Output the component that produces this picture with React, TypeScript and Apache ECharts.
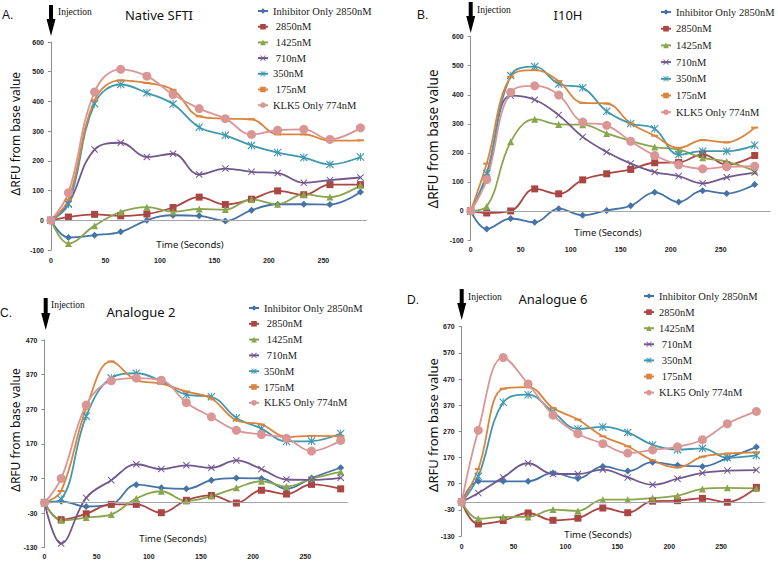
import React, { useEffect, useRef } from 'react';
import * as echarts from 'echarts';

// Time points (seconds)
const times = [0, 16, 40, 64, 88, 112, 136, 160, 184, 208, 232, 256, 284];

// Panel A – Native SFTI
const aInhibitor = [0, -58, -50, -39, 0, 17, 15, -2, 34, 54, 54, 53, 95];
const a2850 = [0, 11, 20, 15, 21, 43, 78, 53, 71, 99, 86, 120, 120];
const a1425 = [0, -78, -18, 28, 44, 29, 38, 36, 70, 54, 87, 78, 118];
const a710 = [0, 56, 238, 261, 213, 224, 154, 174, 163, 159, 126, 135, 144];
const a350 = [0, 54, 392, 457, 429, 391, 313, 286, 252, 228, 211, 188, 213];
const a175 = [0, 70, 404, 471, 462, 439, 350, 342, 340, 289, 289, 268, 269];
const aKLK5 = [0, 93, 432, 508, 485, 423, 376, 342, 289, 303, 306, 272, 311];

// Panel B – I10H
const bInhibitor = [0, -62, -26, -39, 8, -15, 2, 18, 64, 31, 70, 60, 91];
const b2850 = [0, -7, 0, 76, 59, 107, 128, 143, 166, 167, 195, 159, 191];
const b1425 = [0, 15, 238, 316, 298, 297, 267, 241, 220, 211, 183, 170, 138];
const b710 = [0, 115, 397, 383, 330, 255, 203, 163, 134, 120, 95, 116, 132];
const b350 = [0, 129, 466, 497, 437, 424, 343, 301, 283, 194, 206, 206, 226];
const b175 = [0, 163, 462, 485, 447, 372, 370, 301, 259, 217, 244, 236, 287];
const bKLK5 = [0, 108, 409, 431, 399, 306, 295, 240, 191, 159, 145, 152, 154];

// Panel C – Analogue 2
const cInhibitor = [0, 4, -11, -5, 52, 43, 40, 65, 71, 70, 40, 71, 101];
const c2850 = [0, -49, -32, -5, -5, -29, 7, 21, -1, 36, 25, 53, 40];
const c1425 = [0, -51, -43, -34, 12, 33, 5, 19, 43, 62, 47, 69, 89];
const c710 = [0, -118, 14, 65, 111, 97, 108, 101, 122, 97, 67, 66, 72];
const c350 = [0, 10, 250, 360, 374, 351, 312, 306, 245, 214, 177, 178, 200];
const c175 = [0, 34, 272, 408, 354, 344, 321, 301, 238, 226, 190, 193, 192];
const cKLK5 = [0, 70, 282, 352, 360, 354, 289, 248, 209, 197, 186, 149, 180];

// Panel D – Analogue 6
const dInhibitor = [0, 79, 79, 79, 111, 90, 136, 118, 152, 140, 136, 168, 210];
const d2850 = [0, -84, -71, -42, -70, -62, -23, -41, 3, 5, 14, -1, 56];
const d1425 = [0, -64, -57, -57, -29, -34, 9, 9, 15, 24, 50, 54, 52];
const d710 = [0, 34, 94, 148, 107, 107, 124, 94, 66, 89, 111, 120, 122];
const d350 = [0, 98, 381, 410, 344, 279, 287, 266, 218, 200, 205, 169, 178];
const d175 = [0, 126, 433, 439, 359, 315, 251, 213, 159, 132, 173, 185, 190];
const dKLK5 = [0, 274, 552, 451, 332, 261, 223, 187, 199, 211, 238, 299, 346];

// Legend names (some entries carry a leading space in the original)
const S = '\u00a0';
const namesA = ['Inhibitor Only 2850nM', S + '2850nM', S + '1425nM', S + '710nM', '350nM', S + '175nM', 'KLK5 Only 774nM'];
const namesB = ['Inhibitor Only 2850nM', '2850nM', '1425nM', '710nM', '350nM', '175nM', 'KLK5 Only 774nM'];
const namesC = ['Inhibitor Only 2850nM', S + '2850nM', S + '1425nM', S + '710nM', '350nM', '175nM', 'KLK5 Only 774nM'];
const namesD = ['Inhibitor Only 2850nM', '2850nM', '1425nM', S + '710nM', S + '350nM', S + '175nM', 'KLK5 Only 774nM'];

const titles = ['Native SFTI', 'I10H', 'Analogue 2', 'Analogue 6'];
const letters = ['A.', 'B.', 'C.', 'D.'];

const COLORS = ['#4572A7', '#AA4643', '#89A54E', '#71588F', '#4198AF', '#DB843D', '#D99694'];
const X_PATH = 'path://M1,0L5,4L9,0L10,1L6,5L10,9L9,10L5,6L1,10L0,9L4,5L0,1Z';
const STAR_PATH = 'path://M1,0L5,4L9,0L10,1L6,5L10,9L9,10L5,6L1,10L0,9L4,5L0,1Z M4.4,0L5.6,0L5.6,10L4.4,10Z';
const SYMBOLS = ['diamond', 'rect', 'triangle', X_PATH, STAR_PATH, 'rect', 'circle'];
const SYMBOL_SIZES: any[] = [7, 7, 7, 7, 8, [7, 2], 9];

const panels = [
  {
    names: namesA, data: [aInhibitor, a2850, a1425, a710, a350, a175, aKLK5],
    yMin: -100, yMax: 600, xMax: 290,
    grid: { left: 51, top: 42, width: 316, height: 208 },
    legend: { left: 257, top: 5.5, gap: 4.7 }, xMargin: 7,
    letter: [2, 15], title: [159, 15], inj: [58, 12], arrow: [51, 5, 36],
    yLabel: [15.7, 133.7, 12], time: [190, 244],
  },
  {
    names: namesB, data: [bInhibitor, b2850, b1425, b710, b350, b175, bKLK5],
    yMin: -100, yMax: 600, xMax: 300,
    grid: { left: 470.7, top: 36.7, width: 300, height: 203.3 },
    legend: { left: 660, top: 6.5, gap: 5.7 }, xMargin: 6,
    letter: [417, 15], title: [568, 15], inj: [477, 10], arrow: [470.7, 2, 33],
    yLabel: [433, 139, 13.5], time: [608, 232],
  },
  {
    names: namesC, data: [cInhibitor, c2850, c1425, c710, c350, c175, cKLK5],
    yMin: -130, yMax: 470, xMax: 291,
    grid: { left: 44.5, top: 340, width: 303.5, height: 207.7 },
    legend: { left: 248, top: 302.5, gap: 4.8 }, xMargin: 5,
    letter: [0, 313], title: [141, 312], inj: [51, 305], arrow: [45.7, 298, 330],
    yLabel: [15, 430, 12], time: [173, 538],
  },
  {
    names: namesD, data: [dInhibitor, d2850, d1425, d710, d350, d175, dKLK5],
    yMin: -130, yMax: 670, xMax: 292,
    grid: { left: 461.7, top: 326.7, width: 303, height: 209.3 },
    legend: { left: 643, top: 290.5, gap: 5.1 }, xMargin: 7,
    letter: [407, 300], title: [553, 299], inj: [468, 297], arrow: [461.7, 289, 320],
    yLabel: [433, 425, 13], time: [598, 534],
  },
];

function buildOption() {
  const grid: any[] = [];
  const xAxis: any[] = [];
  const yAxis: any[] = [];
  const legend: any[] = [];
  const series: any[] = [];
  const graphic: any[] = [];

  panels.forEach((p, pi) => {
    grid.push({ ...p.grid, containLabel: false });
    xAxis.push({
      type: 'value', gridIndex: pi, min: 0, max: p.xMax, interval: 50,
      axisLine: { show: false, onZero: false },
      axisTick: { show: false },
      splitLine: { show: false },
      axisLabel: {
        showMaxLabel: false, margin: p.xMargin,
        fontFamily: 'Liberation Sans', fontSize: 7, fontWeight: 'bold', color: '#222',
      },
    });
    yAxis.push({
      type: 'value', gridIndex: pi, min: p.yMin, max: p.yMax, interval: 100,
      axisLine: { show: true, lineStyle: { color: '#8c8c8c', width: 1 } },
      axisTick: { show: true, length: 3, lineStyle: { color: '#8c8c8c' } },
      splitLine: { show: false },
      axisLabel: {
        margin: 7, fontFamily: 'Liberation Sans', fontSize: 7, fontWeight: 'bold', color: '#222',
      },
    });
    legend.push({
      orient: 'vertical', left: p.legend.left, top: p.legend.top, itemGap: p.legend.gap,
      itemWidth: 10, itemHeight: 7, padding: 0,
      data: p.names,
      textStyle: { fontFamily: 'Liberation Serif', fontSize: 10.5, lineHeight: 11, color: '#1a1a1a' },
    });
    p.names.forEach((name, k) => {
      const s: any = {
        type: 'line', name, xAxisIndex: pi, yAxisIndex: pi,
        data: times.map((t, i) => [t, p.data[k][i]]),
        smooth: 0.4,
        symbol: SYMBOLS[k], symbolSize: SYMBOL_SIZES[k],
        lineStyle: { color: COLORS[k], width: 1.8 },
        itemStyle: { color: COLORS[k] },
        emphasis: { disabled: true },
      };
      if (k === 0) {
        s.markLine = {
          silent: true, symbol: ['none', 'none'], label: { show: false },
          lineStyle: { color: '#a6a6a6', width: 1, type: 'solid' },
          data: [{ yAxis: 0 }],
        };
      }
      series.push(s);
    });

    graphic.push({
      type: 'text', x: p.letter[0], y: p.letter[1],
      style: { text: letters[pi], fontFamily: 'Liberation Sans', fontSize: 12, fill: '#111', align: 'left', verticalAlign: 'middle' },
    });
    graphic.push({
      type: 'text', x: p.title[0], y: p.title[1],
      style: { text: titles[pi], fontFamily: 'Noto Sans', fontSize: 13, fill: '#111', align: 'center', verticalAlign: 'middle' },
    });
    graphic.push({
      type: 'text', x: p.inj[0], y: p.inj[1],
      style: { text: 'Injection', fontFamily: 'Liberation Serif', fontSize: 9.5, fill: '#111', align: 'left', verticalAlign: 'middle' },
    });
    const [cx, y0, y1] = p.arrow;
    const yh = y1 - 17;
    graphic.push({
      type: 'polygon',
      shape: { points: [[cx - 2, y0], [cx + 2, y0], [cx + 2, yh], [cx + 4.5, yh], [cx, y1], [cx - 4.5, yh], [cx - 2, yh]] },
      style: { fill: '#000' },
    });
    graphic.push({
      type: 'text', x: p.yLabel[0], y: p.yLabel[1], rotation: Math.PI / 2,
      style: { text: 'ΔRFU from base value', fontFamily: 'Noto Sans', fontSize: p.yLabel[2], fill: '#111', align: 'center', verticalAlign: 'middle' },
    });
    graphic.push({
      type: 'text', x: p.time[0], y: p.time[1],
      style: { text: 'Time (Seconds)', fontFamily: 'Noto Sans', fontSize: 9.5, fill: '#111', align: 'center', verticalAlign: 'middle' },
    });
  });

  return {
    animation: false,
    backgroundColor: '#ffffff',
    grid, xAxis, yAxis, legend, series, graphic,
  };
}

export default function App() {
  const ref = useRef<HTMLDivElement>(null);
  useEffect(() => {
    if (!ref.current) return;
    const chart = echarts.init(ref.current, undefined, { renderer: 'svg' });
    chart.setOption(buildOption() as any);
    return () => chart.dispose();
  }, []);
  return (
    <div
      ref={ref}
      style={{ position: 'fixed', left: 0, top: 0, width: 778, height: 564, background: '#fff' }}
    />
  );
}
